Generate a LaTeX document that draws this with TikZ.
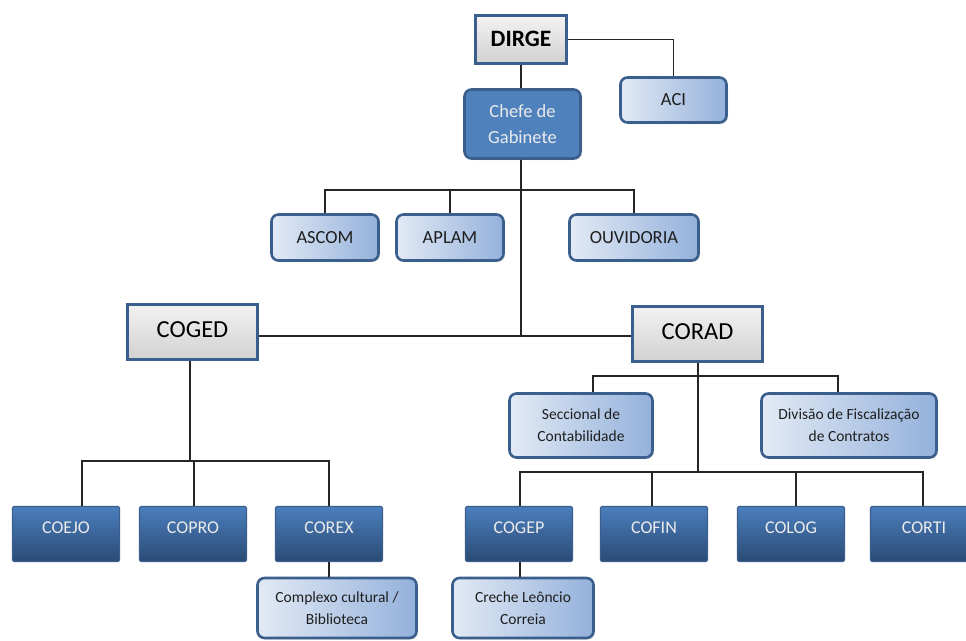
\documentclass[tikz,border=0pt]{standalone}
\usepackage{fontspec}
\setmainfont{Carlito}
\usetikzlibrary{shadows}
\definecolor{bordblue}{HTML}{3A5F8C}
\definecolor{chefefill}{HTML}{4F81BD}
\definecolor{lightL}{HTML}{E2EAF5}
\definecolor{lightR}{HTML}{94B1DB}
\definecolor{darkT}{HTML}{4A7EBD}
\definecolor{darkB}{HTML}{2B4B74}
\definecolor{txtdark}{HTML}{1E1E1E}
\tikzset{
  graybox/.style={draw=bordblue, line width=2.6pt, top color=white!95!black, bottom color=white!82!black,
    text=black, inner sep=0pt, drop shadow={opacity=0.25, shadow xshift=1.5pt, shadow yshift=-1.5pt}},
  chefebox/.style={draw=bordblue, line width=2.6pt, rounded corners=7pt, fill=chefefill,
    text=white!92!black, inner sep=0pt, align=center, font=\fontsize{18.5}{26}\selectfont,
    drop shadow={opacity=0.25, shadow xshift=1.5pt, shadow yshift=-1.5pt}},
  lightbox/.style={draw=bordblue, line width=2.6pt, rounded corners=7pt, left color=lightL, right color=lightR,
    text=txtdark, inner sep=0pt, align=center,
    drop shadow={opacity=0.25, shadow xshift=1.5pt, shadow yshift=-1.5pt}},
  darkbox/.style={draw=bordblue, line width=1.2pt, rounded corners=1.5pt, top color=darkT, bottom color=darkB,
    text=white!92!black, inner sep=0pt, minimum width=107pt, minimum height=55pt,
    font=\fontsize{18}{20}\selectfont},
  conn/.style={draw=black!85, line width=1.1pt},
}
\begin{document}
\begin{tikzpicture}[x=1pt,y=-1pt]
\useasboundingbox (0,0) rectangle (966,640);
\fill[white] (0,0) rectangle (966,640);

\coordinate (b1) at (521,190);
\coordinate (hub) at (521,336);
\coordinate (b2) at (190,461);
\coordinate (b3) at (698,376);
\coordinate (b4) at (698,472);

\node[graybox, minimum width=91pt, minimum height=48pt, font=\bfseries\fontsize{23.5}{26}\selectfont] (dirge) at (521,39.5) {\raisebox{1pt}{DIRGE}};
\node[chefebox, minimum width=116pt, minimum height=69pt] (chefe) at (522.5,124) {Chefe de\\Gabinete};
\node[lightbox, minimum width=106pt, minimum height=45pt, font=\fontsize{18.5}{20}\selectfont] (aci) at (673.5,100) {ACI};

\node[lightbox, minimum width=107pt, minimum height=46pt, font=\fontsize{18.5}{20}\selectfont] (ascom) at (325,237.5) {ASCOM};
\node[lightbox, minimum width=107pt, minimum height=46pt, font=\fontsize{18.5}{20}\selectfont] (aplam) at (450,237.5) {APLAM};
\node[lightbox, minimum width=129pt, minimum height=46pt, font=\fontsize{18.5}{20}\selectfont] (ouv) at (634,237.5) {OUVIDORIA};

\node[graybox, minimum width=130pt, minimum height=55pt, font=\fontsize{24.5}{26}\selectfont] (coged) at (192.5,332) {\raisebox{5pt}{COGED}};
\node[graybox, minimum width=130pt, minimum height=55pt, font=\fontsize{24.5}{26}\selectfont] (corad) at (697.5,334) {\raisebox{5pt}{CORAD}};

\node[lightbox, minimum width=143pt, minimum height=64pt, font=\fontsize{15.5}{22}\selectfont] (secc) at (581,425.5) {Seccional de\\Contabilidade};
\node[lightbox, minimum width=175pt, minimum height=64pt, font=\fontsize{15.5}{22}\selectfont] (div) at (849,425.5) {Divisão de Fiscalização\\de Contratos};

\node[darkbox] (coejo) at (66,534) {\raisebox{13pt}{COEJO}};
\node[darkbox] (copro) at (193,534) {\raisebox{13pt}{COPRO}};
\node[darkbox] (corex) at (329,534) {\raisebox{13pt}{COREX}};
\node[darkbox] (cogep) at (519,534) {\raisebox{13pt}{COGEP}};
\node[darkbox] (cofin) at (654,534) {\raisebox{13pt}{COFIN}};
\node[darkbox] (colog) at (791,534) {\raisebox{13pt}{COLOG}};
\node[darkbox] (corti) at (924,534) {\raisebox{13pt}{CORTI}};

\node[lightbox, minimum width=159pt, minimum height=60pt, font=\fontsize{15.5}{22}\selectfont] (compl) at (337,608) {Complexo cultural /\\Biblioteca};
\node[lightbox, minimum width=141pt, minimum height=60pt, font=\fontsize{15.5}{22}\selectfont] (creche) at (523,608) {Creche Leôncio\\Correia};

\draw[conn] (dirge.east) -| (aci.north);
\draw[conn] (dirge.south) -- (dirge.south |- chefe.north);
\draw[conn] (chefe.south -| hub) -- (hub);
\draw[conn] (ascom.north) |- (b1) -| (ouv.north);
\draw[conn] (aplam.north) -- (aplam.north |- b1);
\draw[conn] (coged.east |- hub) -- (corad.west |- hub);

\draw[conn] (coged.south -| b2) -- (b2);
\draw[conn] ([xshift=16pt]coejo.north) |- (b2) -| (corex.north);
\draw[conn] ([xshift=1pt]copro.north) -- ([xshift=1pt]copro.north |- b2);
\draw[conn] (corex.south) -- (corex.south |- compl.north);

\draw[conn] (corad.south -| b4) -- (b4);
\draw[conn] ([xshift=12pt]secc.north) |- (b3) -| ([xshift=-11pt]div.north);
\draw[conn] ([xshift=1pt]cogep.north) |- (b4) -| ([xshift=-1pt]corti.north);
\draw[conn] ([xshift=-2pt]cofin.north) -- ([xshift=-2pt]cofin.north |- b4);
\draw[conn] ([xshift=5pt]colog.north) -- ([xshift=5pt]colog.north |- b4);
\draw[conn] ([xshift=1pt]cogep.south) -- ([xshift=1pt]cogep.south |- creche.north);
\end{tikzpicture}
\end{document}
